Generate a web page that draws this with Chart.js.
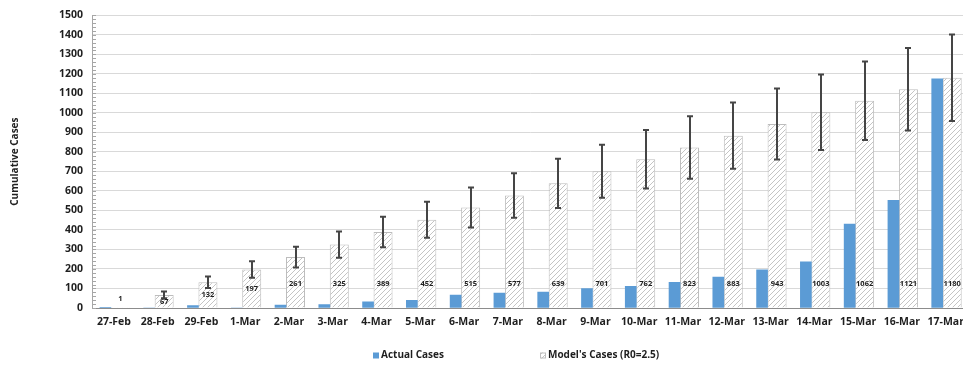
<!DOCTYPE html>
<html>
<head>
<meta charset="utf-8">
<script src="https://cdn.jsdelivr.net/npm/chart.js@4/dist/chart.umd.min.js"></script>
<style>
  html, body { margin: 0; padding: 0; background: #fff; overflow: hidden; }
  #wrap { width: 972px; height: 371px; }
</style>
</head>
<body>
<div id="wrap"><canvas id="chart" width="972" height="371"></canvas></div>
<script>
// ---------- Data ----------
const days = ["27-Feb", "28-Feb", "29-Feb", "1-Mar", "2-Mar", "3-Mar", "4-Mar", "5-Mar", "6-Mar", "7-Mar",
              "8-Mar", "9-Mar", "10-Mar", "11-Mar", "12-Mar", "13-Mar", "14-Mar", "15-Mar", "16-Mar", "17-Mar"];
const actualCases = [2, 0, 12, 0, 15, 18, 32, 39, 66, 76, 81, 99, 111, 131, 159, 196, 237, 430, 552, 1174];
const modelCases  = [1, 67, 132, 197, 261, 325, 389, 452, 515, 577, 639, 701, 762, 823, 883, 943, 1003, 1062, 1121, 1180];
const modelError  = [0, 17, 30, 42, 53, 67, 78, 92, 102, 114, 126, 136, 150, 160, 170, 182, 193, 201, 211, 222];
const yMax  = 1500;
const yStep = 100;

const FONT = "'Open Sans', sans-serif";
const INK  = "#1f1f1f";

// ---------- Hatch pattern for model bars ----------
function makeHatch() {
    const c = document.createElement("canvas");
    c.width = 5; c.height = 5;
    const g = c.getContext("2d");
    g.fillStyle = "#ffffff";
    g.fillRect(0, 0, 5, 5);
    g.strokeStyle = "#c4c4c4";
    g.lineWidth = 1;
    g.beginPath();
    g.moveTo(-1, 6); g.lineTo(6, -1);
    g.moveTo(-1, 1); g.lineTo(1, -1);
    g.moveTo(4, 6);  g.lineTo(6, 4);
    g.stroke();
    return g.createPattern(c, "repeat");
}
const hatch = makeHatch();

// ---------- Minor ticks on the value axis ----------
const minorTicks = {
    id: "minorTicks",
    afterDraw(chart) {
        const { ctx, scales: { y }, chartArea } = chart;
        ctx.save();
        ctx.strokeStyle = "#a6a6a6";
        ctx.lineWidth = 1;
        ctx.beginPath();
        for (let v = 0; v <= yMax; v += 20) {
            const py = Math.round(y.getPixelForValue(v)) + 0.5;
            ctx.moveTo(chartArea.left, py);
            ctx.lineTo(chartArea.left + 4, py);
        }
        ctx.stroke();
        ctx.restore();
    }
};

// ---------- Error bars + value labels on model bars ----------
const modelExtras = {
    id: "modelExtras",
    afterDatasetsDraw(chart) {
        const { ctx, scales: { y } } = chart;
        const meta = chart.getDatasetMeta(1);
        ctx.save();
        // error bars
        ctx.strokeStyle = "#454545";
        ctx.lineWidth = 2;
        meta.data.forEach((bar, i) => {
            const err = modelError[i];
            if (!err) return;
            const x = Math.round(bar.x);
            const top = y.getPixelForValue(modelCases[i] + err);
            const bot = y.getPixelForValue(modelCases[i] - err);
            ctx.beginPath();
            ctx.moveTo(x, top); ctx.lineTo(x, bot);
            ctx.moveTo(x - 3, top); ctx.lineTo(x + 3, top);
            ctx.moveTo(x - 3, bot); ctx.lineTo(x + 3, bot);
            ctx.stroke();
        });
        // value labels
        ctx.fillStyle = INK;
        ctx.font = "bold 7.5px " + FONT;
        ctx.textAlign = "center";
        ctx.textBaseline = "middle";
        meta.data.forEach((bar, i) => {
            const v = modelCases[i];
            const py = v < 10 ? bar.y - 9 : y.getPixelForValue(Math.min(v / 2, 125));
            ctx.fillText(String(v), bar.x, py);
        });
        ctx.restore();
    }
};

// ---------- Legend (drawn under the plot) ----------
const bottomLegend = {
    id: "bottomLegend",
    afterDraw(chart) {
        const { ctx } = chart;
        const spots = [373, 540];
        const cy = 355.5;
        ctx.save();
        ctx.font = "bold 10px " + FONT;
        ctx.textBaseline = "middle";
        chart.data.datasets.forEach((ds, i) => {
            const x = spots[i];
            ctx.fillStyle = ds.backgroundColor;
            ctx.fillRect(x, cy - 3, 6, 6);
            if (i === 1) {
                ctx.strokeStyle = "#bfbfbf";
                ctx.lineWidth = 1;
                ctx.strokeRect(x + 0.5, cy - 2.5, 5, 5);
            }
            ctx.fillStyle = INK;
            ctx.fillText(ds.label, x + 8, cy);
        });
        ctx.restore();
    }
};

// ---------- Chart ----------
new Chart(document.getElementById("chart"), {
    type: "bar",
    data: {
        labels: days,
        datasets: [
            {
                label: "Actual Cases",
                data: actualCases,
                backgroundColor: "#5b9bd5",
                borderWidth: 0,
                barThickness: 17,      // slot width, bar drawn narrower
                maxBarThickness: 11
            },
            {
                label: "Model's Cases (R0=2.5)",
                data: modelCases,
                backgroundColor: hatch,
                borderColor: "#bdbdbd",
                borderWidth: 1,
                borderSkipped: "bottom",
                categoryPercentage: 26 / 43.8,
                barPercentage: 19 / 13
            }
        ]
    },
    options: {
        responsive: false,
        animation: false,
        layout: { padding: { top: 11, right: 4, left: 0, bottom: 0 } },
        plugins: {
            legend: { display: false },
            tooltip: { enabled: false }
        },
        scales: {
            x: {
                grid: { display: false, drawTicks: false },
                border: { color: "#8c8c8c", width: 1 },
                ticks: {
                    color: INK,
                    font: { family: FONT, size: 10.5, weight: "bold" },
                    padding: 8,
                    maxRotation: 0,
                    autoSkip: false
                },
                afterFit: s => { s.height = 63; }
            },
            y: {
                min: 0,
                max: yMax,
                grid: { color: "#d9d9d9", lineWidth: 1, drawTicks: false },
                border: { color: "#a6a6a6", width: 1 },
                ticks: {
                    stepSize: yStep,
                    color: INK,
                    font: { family: FONT, size: 10.5, weight: "bold" },
                    padding: 9,
                    callback: v => String(v)
                },
                title: {
                    display: true,
                    text: "Cumulative Cases",
                    color: INK,
                    font: { family: FONT, size: 10, weight: "bold" },
                    padding: { top: 9, bottom: 0 }
                },
                afterFit: s => { s.width = 92; }
            }
        }
    },
    plugins: [minorTicks, modelExtras, bottomLegend]
});
</script>
</body>
</html>
